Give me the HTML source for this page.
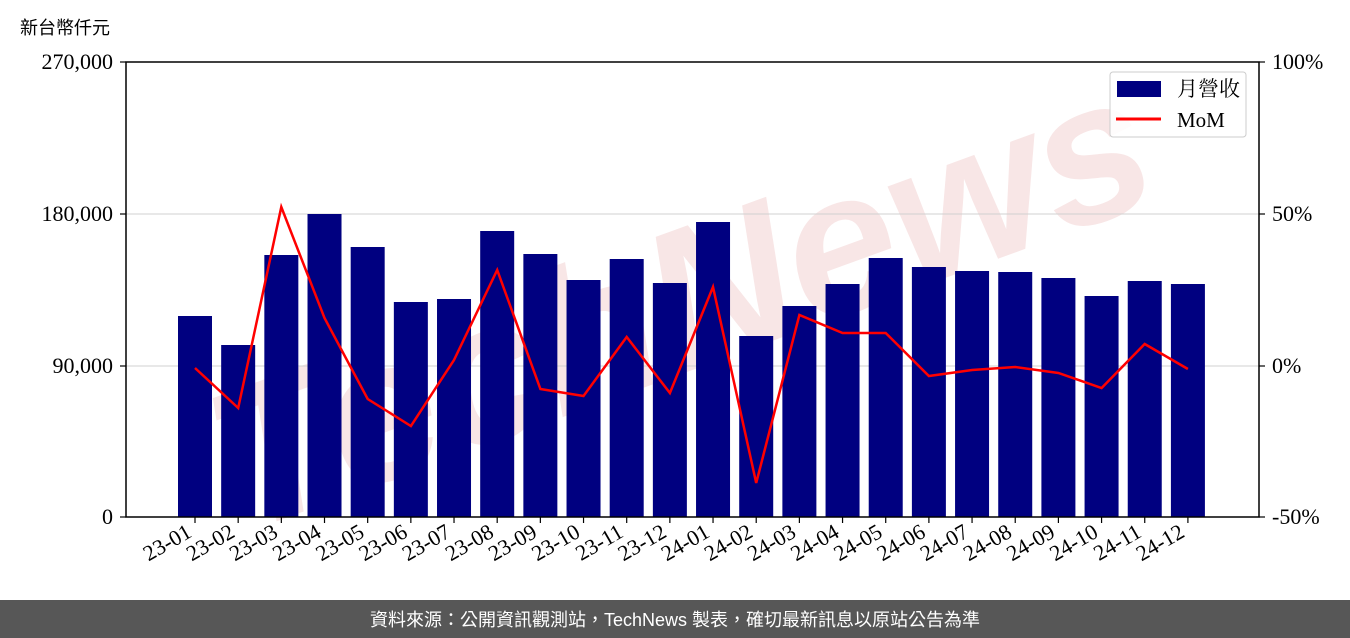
<!DOCTYPE html>
<html><head><meta charset="utf-8"><style>
html,body{margin:0;padding:0;background:#fff;width:1350px;height:638px;overflow:hidden}
svg text{font-family:"Liberation Serif","Noto Serif CJK SC",serif;fill:#000}
</style></head><body>
<svg width="1350" height="638" viewBox="0 0 1350 638" xmlns="http://www.w3.org/2000/svg">
<defs><clipPath id="c"><rect x="0" y="0" width="1350" height="598"/></clipPath></defs>
<text x="20" y="34" font-size="18" style="font-family:'Liberation Sans','Noto Sans CJK TC',sans-serif">新台幣仟元</text>
<g clip-path="url(#c)">
<text x="680" y="370" font-size="200" font-weight="bold" text-anchor="middle" transform="rotate(-20 680 300)" style="font-family:'Liberation Sans',sans-serif;fill:#f8e6e6" font-style="italic">TechNews</text>
</g>
<g stroke="#d0d0d0" stroke-width="1">
<line x1="126" y1="214" x2="1259" y2="214"/><line x1="126" y1="366" x2="1259" y2="366"/>
</g>
<g fill="#000080" id="bars"></g>
<polyline id="mom" fill="none" stroke="#ff0000" stroke-width="2.5"/>
<rect x="126" y="62" width="1133" height="455" fill="none" stroke="#000" stroke-width="1.5"/>
<g font-size="22" text-anchor="end">
<text x="113" y="69">270,000</text><text x="113" y="221">180,000</text><text x="113" y="373">90,000</text><text x="113" y="524">0</text>
</g>
<g font-size="22">
<text x="1272" y="69">100%</text><text x="1272" y="221">50%</text><text x="1272" y="373">0%</text><text x="1272" y="524">-50%</text>
</g>
<g stroke="#000" stroke-width="1.2">
<line x1="120" y1="62" x2="126" y2="62"/><line x1="120" y1="214" x2="126" y2="214"/><line x1="120" y1="366" x2="126" y2="366"/><line x1="120" y1="517" x2="126" y2="517"/>
<line x1="1259" y1="62" x2="1265" y2="62"/><line x1="1259" y1="214" x2="1265" y2="214"/><line x1="1259" y1="366" x2="1265" y2="366"/><line x1="1259" y1="517" x2="1265" y2="517"/>
</g>
<g id="xt" font-size="22" text-anchor="end"></g>
<g id="xtk" stroke="#000" stroke-width="1.2"></g>
<rect x="1110" y="72" width="136" height="65" rx="3" fill="#fff" fill-opacity="0.85" stroke="#ccc"/>
<rect x="1117" y="81" width="44" height="16" fill="#000080"/>
<line x1="1116" y1="119" x2="1161" y2="119" stroke="#ff0000" stroke-width="3"/>
<text x="1177" y="96" font-size="21">月營收</text>
<text x="1177" y="127" font-size="21">MoM</text>
<rect x="0" y="600" width="1350" height="38" fill="#575757"/>
<text x="675" y="626" font-size="18" text-anchor="middle" style="fill:#fff;font-family:'Liberation Sans','Noto Sans CJK TC',sans-serif">資料來源：公開資訊觀測站，TechNews 製表，確切最新訊息以原站公告為準</text>
</svg>
<script>
var tops=[316,345,255,214,247,302,299,231,254,280,259,283,222,336,306,284,258,267,271,272,278,296,281,284];
var mom=[368,408,207,318,399,426,360,270,389,396,337,393,287,483,315,333,333,376,370,367,373,388,344,369];
var ns="http://www.w3.org/2000/svg";
var b=document.getElementById('bars'),xt=document.getElementById('xt'),xk=document.getElementById('xtk');
var pts=[];
for(var i=0;i<24;i++){
 var cx=195+i*43.17;
 var r=document.createElementNS(ns,'rect');
 r.setAttribute('x',cx-17);r.setAttribute('y',tops[i]);r.setAttribute('width',34);r.setAttribute('height',517-tops[i]);
 b.appendChild(r);
 pts.push(cx.toFixed(1)+','+mom[i]);
 var l=document.createElementNS(ns,'line');
 l.setAttribute('x1',cx);l.setAttribute('x2',cx);l.setAttribute('y1',517);l.setAttribute('y2',523);xk.appendChild(l);
 var t=document.createElementNS(ns,'text');
 var m=i%12+1;t.textContent=(i<12?'23-':'24-')+(m<10?'0'+m:m);
 var tx=cx-2,ty=536;
 t.setAttribute('x',tx);t.setAttribute('y',ty);
 t.setAttribute('transform','rotate(-30 '+tx+' '+ty+')');
 xt.appendChild(t);
}
document.getElementById('mom').setAttribute('points',pts.join(' '));
</script>
</body></html>
